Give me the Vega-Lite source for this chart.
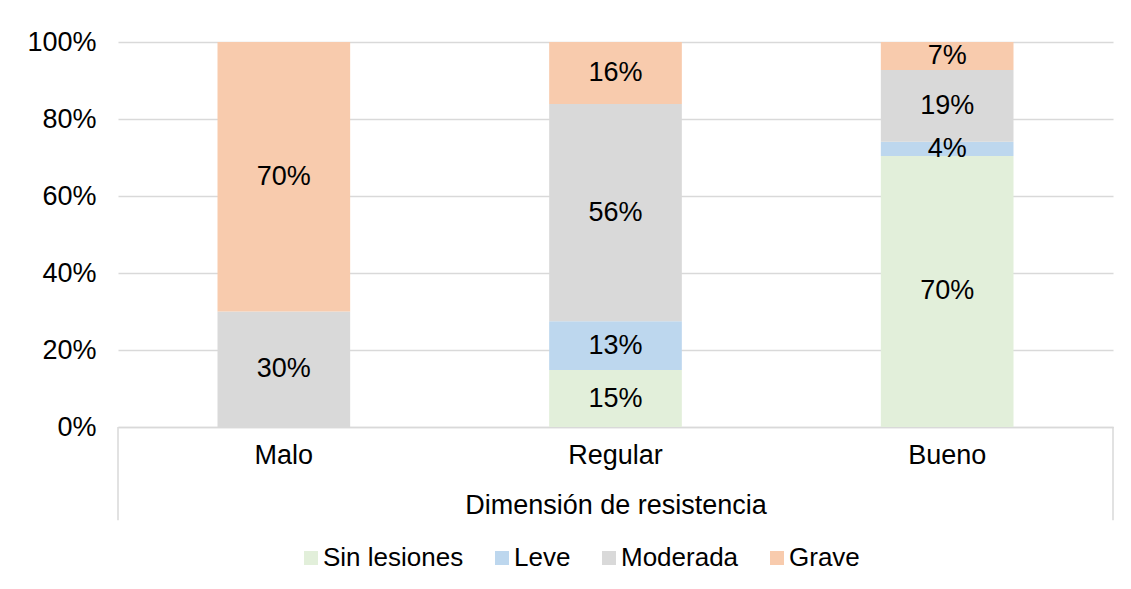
{
  "$schema": "https://vega.github.io/schema/vega-lite/v6.json",
  "width": 995,
  "height": 385,
  "autosize": {"type": "none"},
  "padding": {"left": 118, "top": 42, "right": 18, "bottom": 162},
  "background": "white",
  "config": {
    "font": "Liberation Sans",
    "view": {"stroke": null},
    "axis": {"labelFont": "Liberation Sans", "titleFont": "Liberation Sans", "labelColor": "#000000", "titleColor": "#000000"}
  },
  "data": {
    "values": [
      {"cat": "Malo", "grp": "Moderada", "ord": 3, "value": 0.30},
      {"cat": "Malo", "grp": "Grave", "ord": 4, "value": 0.70},
      {"cat": "Regular", "grp": "Sin lesiones", "ord": 1, "value": 0.148},
      {"cat": "Regular", "grp": "Leve", "ord": 2, "value": 0.127},
      {"cat": "Regular", "grp": "Moderada", "ord": 3, "value": 0.564},
      {"cat": "Regular", "grp": "Grave", "ord": 4, "value": 0.161},
      {"cat": "Bueno", "grp": "Sin lesiones", "ord": 1, "value": 0.704},
      {"cat": "Bueno", "grp": "Leve", "ord": 2, "value": 0.037},
      {"cat": "Bueno", "grp": "Moderada", "ord": 3, "value": 0.186},
      {"cat": "Bueno", "grp": "Grave", "ord": 4, "value": 0.073}
    ]
  },
  "transform": [
    {"stack": "value", "groupby": ["cat"], "sort": [{"field": "ord", "order": "ascending"}], "as": ["y0", "y1"]},
    {"calculate": "(datum.y0 + datum.y1) / 2", "as": "mid"}
  ],
  "encoding": {
    "x": {
      "field": "cat", "type": "nominal", "sort": ["Malo", "Regular", "Bueno"],
      "scale": {"paddingInner": 0.6, "paddingOuter": 0.3},
      "axis": {
        "title": "Dimensión de resistencia", "labelAngle": 0, "labelFontSize": 27, "titleFontSize": 27,
        "titleFontWeight": "normal", "labelPadding": 15, "titlePadding": 24,
        "ticks": false, "domainColor": "#d9d9d9", "domainWidth": 1.5, "grid": false
      }
    }
  },
  "layer": [
    {
      "mark": {"type": "bar"},
      "encoding": {
        "y": {
          "field": "y0", "type": "quantitative",
          "scale": {"domain": [0, 1], "nice": false},
          "axis": {
            "format": ".0%", "values": [0, 0.2, 0.4, 0.6, 0.8, 1], "title": null,
            "domain": false, "ticks": false, "labelFontSize": 27, "labelPadding": 22,
            "gridColor": "#d9d9d9", "gridWidth": 1.5
          }
        },
        "y2": {"field": "y1"},
        "color": {
          "field": "grp", "type": "nominal",
          "scale": {
            "domain": ["Sin lesiones", "Leve", "Moderada", "Grave"],
            "range": ["#E2EFDA", "#BDD7EE", "#D9D9D9", "#F8CBAD"]
          },
          "legend": {
            "title": null, "orient": "none", "direction": "horizontal",
            "legendX": 180, "legendY": 503,
            "labelFontSize": 26, "labelFont": "Liberation Sans", "labelColor": "#000000",
            "symbolType": "square", "symbolSize": 196, "symbolStrokeWidth": 0,
            "columnPadding": 25, "labelOffset": -1
          }
        }
      }
    },
    {
      "mark": {"type": "text", "fontSize": 27, "color": "#000000", "font": "Liberation Sans"},
      "encoding": {
        "y": {"field": "mid", "type": "quantitative"},
        "text": {"field": "value", "type": "quantitative", "format": ".0%"}
      }
    },
    {
      "transform": [{"filter": "datum.cat == 'Malo' && datum.grp == 'Grave'"}],
      "mark": {"type": "rule", "color": "#d9d9d9", "strokeWidth": 1.5},
      "encoding": {
        "x": {"field": "cat", "type": "nominal", "sort": ["Malo", "Regular", "Bueno"], "bandPosition": -0.75},
        "y": {"datum": 0},
        "y2": {"datum": -0.242}
      }
    },
    {
      "transform": [{"filter": "datum.cat == 'Bueno' && datum.grp == 'Grave'"}],
      "mark": {"type": "rule", "color": "#d9d9d9", "strokeWidth": 1.5},
      "encoding": {
        "x": {"field": "cat", "type": "nominal", "sort": ["Malo", "Regular", "Bueno"], "bandPosition": 1.75},
        "y": {"datum": 0},
        "y2": {"datum": -0.242}
      }
    }
  ]
}
